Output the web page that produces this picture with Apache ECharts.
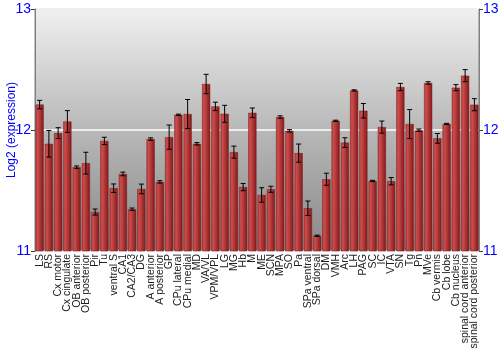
<!DOCTYPE html>
<html><head><meta charset="utf-8">
<script src="https://cdn.jsdelivr.net/npm/echarts@6/dist/echarts.min.js"></script>
<style>html,body{margin:0;padding:0;background:#fff}#c{width:500px;height:350px}</style>
</head><body><div id="c"></div>
<script>
const categories = ["LS","RS","Cx motor","Cx cingulate","OB anterior","OB posterior","Pir","Tu","ventral S","CA1","CA2/CA3","DG","A anterior","A posterior","GP","CPu lateral","CPu medial","MD","VA/VL","VPM/VPL","LG","MG","Hb","M","ME","SCN","MPA","SO","Pa","SPa ventral","SPa dorsal","DM","VMH","Arc","LH","PAG","SC","IC","VTA","SN","Tg","Pn","MVe","Cb vermis","Cb lobe","Cb nucleus","spinal cord anterior","spinal cord posterior"];
const values = [12.21,11.886,11.974,12.07,11.693,11.726,11.322,11.91,11.519,11.637,11.345,11.513,11.925,11.571,11.941,12.126,12.132,11.886,12.38,12.195,12.134,11.817,11.528,12.142,11.463,11.51,12.107,11.993,11.809,11.353,11.126,11.593,12.076,11.896,12.327,12.159,11.579,12.024,11.577,12.355,12.049,11.998,12.389,11.931,12.05,12.35,12.449,12.209];
const errors = [0.035,0.11,0.045,0.09,0.01,0.09,0.025,0.03,0.035,0.015,0.01,0.04,0.01,0.01,0.1,0.005,0.12,0.01,0.08,0.035,0.07,0.05,0.03,0.04,0.06,0.025,0.01,0.01,0.075,0.06,0.005,0.05,0.005,0.04,0.005,0.06,0.005,0.05,0.03,0.03,0.12,0.01,0.01,0.04,0.005,0.025,0.05,0.05];
const yTicks = [11,12,13];

const chart = echarts.init(document.getElementById('c'), null, {renderer:'canvas'});
const errData = values.map((v,i)=>[i, v-errors[i], v+errors[i]]);
const blue = '#0000ff';
const yAxisBase = {
  type:'value', min:yTicks[0], max:yTicks[yTicks.length-1], interval:1,
  axisLine:{show:true, lineStyle:{color:'#808080'}},
  axisTick:{show:true, length:4, lineStyle:{color:'#404040'}},
  axisLabel:{color:blue, fontSize:14, fontFamily:'Liberation Sans, Arial', margin:4},
};
chart.setOption({
  animation:false,
  grid:{left:35, right:21, top:9, bottom:99, containLabel:false, outerBoundsMode:'none', show:true, borderColor:'#808080', borderWidth:1,
    backgroundColor:new echarts.graphic.LinearGradient(0,0,0,1,[{offset:0,color:'#f0f0f0'},{offset:0.5,color:'#b8b8b8'},{offset:1,color:'#888888'}])},
  xAxis:{type:'category', data:categories,
    axisLine:{show:false}, axisTick:{show:false},
    axisLabel:{rotate:90, interval:0, fontSize:10.5, color:'#222', fontFamily:'Liberation Sans, Arial', margin:3}},
  yAxis:[
    Object.assign({}, yAxisBase, {position:'left', name:'Log2 (expression)', nameLocation:'middle', nameGap:17, nameMoveOverlap:false,
      nameTextStyle:{color:blue, fontSize:12, fontFamily:'Liberation Sans, Arial'},
      splitLine:{show:true, lineStyle:{color:'#ffffff', width:1.5}}}),
    Object.assign({}, yAxisBase, {position:'right', splitLine:{show:false}})
  ],
  series:[
    {type:'bar', data:values, barCategoryGap:'12%', yAxisIndex:0,
      itemStyle:{color:new echarts.graphic.LinearGradient(0,0,1,0,[{offset:0,color:'#bc3c3c'},{offset:0.25,color:'#cc4c4c'},{offset:1,color:'#821818'}]),
        borderColor:'#7a1a1a', borderWidth:0.5}},
    {type:'custom', data:errData, yAxisIndex:0, z:10,
      renderItem:function(params, api){
        const x = api.value(0);
        const lo = api.coord([x, api.value(1)]);
        const hi = api.coord([x, api.value(2)]);
        const w = 2.5;
        const st = {stroke:'#000', lineWidth:1};
        return {type:'group', children:[
          {type:'line', shape:{x1:lo[0], y1:lo[1], x2:hi[0], y2:hi[1]}, style:st},
          {type:'line', shape:{x1:lo[0]-w, y1:lo[1], x2:lo[0]+w, y2:lo[1]}, style:st},
          {type:'line', shape:{x1:hi[0]-w, y1:hi[1], x2:hi[0]+w, y2:hi[1]}, style:st}
        ]};
      }}
  ]
});
</script></body></html>
